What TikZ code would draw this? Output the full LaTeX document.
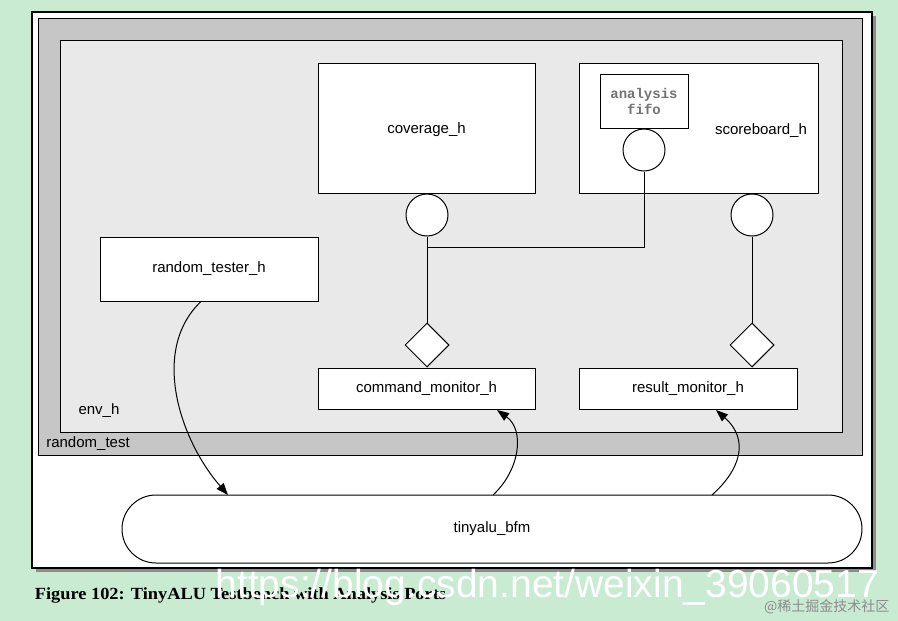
\documentclass[tikz,border=0pt]{standalone}
\usepackage{fontspec}
\setmainfont{Liberation Sans}
\newfontfamily\capfont{Liberation Serif}
\newfontfamily\monofont{Liberation Mono}
\newfontfamily\cjk{Noto Sans CJK SC}
\usetikzlibrary{shapes.geometric,arrows.meta}
\definecolor{bggreen}{HTML}{C8EBD2}
\definecolor{outergray}{HTML}{C6C6C6}
\definecolor{innergray}{HTML}{E9E9E9}
\begin{document}
\begin{tikzpicture}[x=1pt,y=-1pt,
  lbl/.style={font=\fontsize{15}{17}\selectfont},
  box/.style={draw,fill=white,line width=1pt,lbl},
  port/.style={draw,fill=white,circle,minimum size=42pt,inner sep=0pt,line width=1pt},
  dia/.style={draw,fill=white,diamond,minimum size=44pt,inner sep=0pt,line width=1pt},
  wire/.style={line width=1pt},
  arr/.style={line width=1pt,-{Triangle[length=12pt,width=9pt]}}]
\useasboundingbox (0,0) rectangle (898,621);
\fill[bggreen] (0,0) rectangle (898,621);
\fill[black!45] (36,16) rectangle (876,572);
\draw[fill=white,line width=1.4pt] (32,12) rectangle (872,568);
\draw[fill=outergray,line width=1pt] (38,18) rectangle (862,455);
\draw[fill=innergray,line width=1pt] (60,40) rectangle (842,432);
\node[lbl] (rt) at (88,444) {random\_test};
\node[lbl] (env) at (99,411) {env\_h};
\node[box,minimum width=217pt,minimum height=130pt] (cov) at (426.5,128) {};
\node[lbl] (covl) at (426.5,130) {coverage\_h};
\node[box,minimum width=239pt,minimum height=130pt] (sb) at (698.5,128) {};
\node[lbl] (sbl) at (761,131) {scoreboard\_h};
\node[box,minimum width=88pt,minimum height=54pt,align=center,font=\monofont\bfseries\fontsize{14}{16}\selectfont,text=black!55] (fifo) at (644,101) {analysis\\fifo};
\node[port] (fp) at (644,150) {};
\node[port] (cp) at (427,215) {};
\node[port] (sp) at (752,215) {};
\node[dia] (cd) at (427,345) {};
\node[dia] (sd) at (752,345) {};
\node[box,minimum width=217pt,minimum height=41pt] (cm) at (426.5,388.5) {command\_monitor\_h};
\node[box,minimum width=218pt,minimum height=41pt] (rm) at (688,388.5) {result\_monitor\_h};
\node[box,minimum width=218pt,minimum height=64pt] (rth) at (209,269) {random\_tester\_h};
\node[box,rounded corners=34pt,minimum width=740pt,minimum height=68pt] (bfm) at (492,529) {tinyalu\_bfm};
\coordinate (j) at (644,247);
\coordinate (j2) at (427,247);
\draw[wire] (fp) -- (j) -- (j2);
\draw[wire] (cp) -- (cd);
\draw[wire] (sp) -- (sd);
\draw[arr] (rth.south) ++(-8,0) .. controls (150,350) and (180,440) .. (228,495);
\draw[arr] (493,495) .. controls (520,470) and (525,430) .. (497,410);
\draw[arr] (712,495) .. controls (740,470) and (750,440) .. (716,410);
\node[anchor=west,font=\capfont\bfseries\fontsize{17}{19}\selectfont,xscale=1.08] (cap) at (31,595) {Figure 102: TinyALU Testbench with Analysis Ports};
\node[anchor=west,text=white,font=\fontsize{39}{41}\selectfont] (wm) at (212,587) {https://blog.csdn.net/weixin\_39060517};
\node[anchor=east,text=black!45,font=\cjk\fontsize{14}{16}\selectfont] (wm2) at (893,607) {@稀土掘金技术社区};
\end{tikzpicture}
\end{document}
